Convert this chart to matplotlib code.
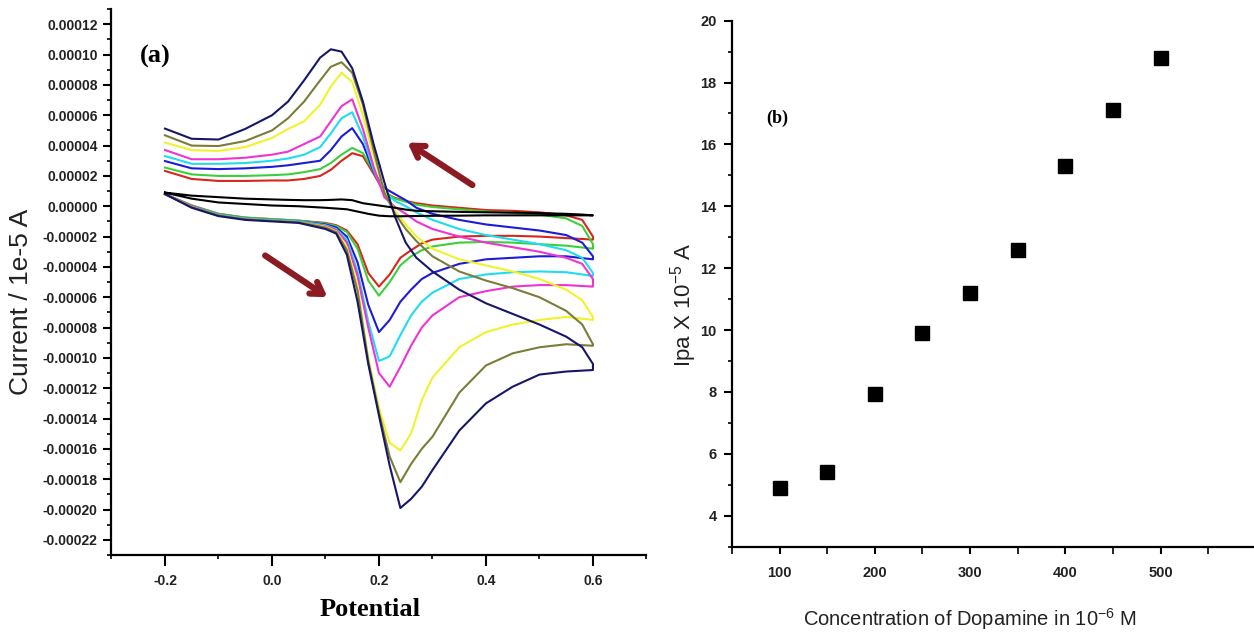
import matplotlib
matplotlib.use("Agg")
import matplotlib.pyplot as plt
from matplotlib.ticker import MultipleLocator, FormatStrFormatter

plt.rcParams['axes.unicode_minus'] = False
plt.rcParams['mathtext.default'] = 'regular'

sans = ['Liberation Sans', 'DejaVu Sans']
serif = ['Liberation Serif', 'DejaVu Serif']

# ---- (a) cyclic voltammograms, current in units of 1e-5 A ----
pot_fwd = [-0.2, -0.15, -0.1, -0.05, 0.0, 0.05, 0.1, 0.12, 0.14, 0.16, 0.18, 0.2,
           0.22, 0.24, 0.26, 0.28, 0.3, 0.35, 0.4, 0.45, 0.5, 0.55, 0.6]
pot_rev = [0.6, 0.58, 0.55, 0.5, 0.45, 0.4, 0.35, 0.3, 0.27, 0.25, 0.23, 0.21, 0.19,
           0.17, 0.15, 0.13, 0.11, 0.09, 0.06, 0.03, 0.0, -0.05, -0.1, -0.15, -0.2]

fwd_black = [0.9, 0.5, 0.25, 0.15, 0.05, 0.0, -0.1, -0.15, -0.2, -0.35, -0.5, -0.62,
             -0.66, -0.66, -0.65, -0.64, -0.63, -0.62, -0.6, -0.6, -0.6, -0.6, -0.6]
fwd_red = [0.8, 0.05, -0.5, -0.75, -0.85, -0.95, -1.1, -1.25, -1.6, -2.5, -4.4, -5.3,
           -4.5, -3.4, -2.9, -2.45, -2.2, -2.0, -1.95, -1.95, -2.0, -2.1, -2.2]
fwd_green = [0.8, 0.05, -0.5, -0.75, -0.85, -0.95, -1.15, -1.3, -1.7, -2.8, -4.9, -5.9,
             -5.0, -3.9, -3.3, -2.9, -2.65, -2.4, -2.35, -2.4, -2.5, -2.6, -2.8]
fwd_blue = [0.8, 0.0, -0.55, -0.8, -0.9, -1.0, -1.2, -1.4, -2.0, -3.7, -6.5, -8.3,
            -7.5, -6.3, -5.5, -4.8, -4.4, -3.8, -3.5, -3.4, -3.3, -3.3, -3.5]
fwd_cyan = [0.8, 0.0, -0.55, -0.8, -0.9, -1.0, -1.25, -1.5, -2.2, -4.3, -7.6, -10.2,
            -9.9, -8.5, -7.2, -6.3, -5.7, -4.8, -4.5, -4.35, -4.3, -4.35, -4.6]
fwd_magenta = [0.8, 0.0, -0.6, -0.85, -0.95, -1.05, -1.3, -1.55, -2.4, -4.6, -8.0, -11.0,
               -11.9, -10.6, -9.2, -8.0, -7.2, -6.0, -5.6, -5.3, -5.2, -5.2, -5.3]
fwd_yellow = [0.8, -0.05, -0.6, -0.85, -0.95, -1.05, -1.35, -1.65, -2.7, -5.3, -10.0, -13.3,
              -15.6, -16.1, -15.0, -12.8, -11.3, -9.3, -8.3, -7.8, -7.5, -7.3, -7.5]
fwd_olive = [0.8, -0.05, -0.6, -0.85, -0.95, -1.05, -1.4, -1.7, -2.9, -5.6, -10.2, -13.6,
             -16.5, -18.2, -17.0, -16.0, -15.2, -12.3, -10.5, -9.7, -9.3, -9.1, -9.2]
fwd_navy = [0.8, -0.1, -0.65, -0.9, -1.0, -1.1, -1.5, -1.8, -3.2, -6.3, -10.4, -13.8,
            -17.1, -19.9, -19.3, -18.5, -17.4, -14.8, -13.0, -11.9, -11.1, -10.9, -10.8]

rev_black = [-0.6, -0.55, -0.5, -0.45, -0.42, -0.4, -0.37, -0.33, -0.3, -0.22, -0.1, 0.0, 0.1,
             0.2, 0.4, 0.45, 0.42, 0.4, 0.4, 0.42, 0.45, 0.5, 0.6, 0.7, 0.9]
rev_red = [-2.0, -0.9, -0.6, -0.4, -0.3, -0.25, -0.1, 0.05, 0.2, 0.35, 0.55, 0.9, 2.15,
           3.3, 3.5, 3.0, 2.4, 2.0, 1.8, 1.7, 1.7, 1.67, 1.67, 1.8, 2.33]
rev_green = [-2.5, -1.3, -0.8, -0.55, -0.45, -0.35, -0.2, -0.05, 0.1, 0.3, 0.5, 0.95, 2.3,
             3.5, 3.85, 3.4, 2.85, 2.45, 2.25, 2.1, 2.05, 2.0, 2.0, 2.1, 2.55]
rev_blue = [-3.3, -2.4, -1.9, -1.6, -1.4, -1.2, -0.9, -0.5, -0.1, 0.4, 0.8, 1.2, 2.3,
            4.1, 5.15, 4.6, 3.7, 3.0, 2.85, 2.7, 2.6, 2.5, 2.45, 2.5, 2.98]
rev_cyan = [-4.4, -3.4, -2.9, -2.5, -2.2, -1.9, -1.5, -0.9, -0.4, 0.0, 0.35, 0.9, 2.4,
            4.6, 6.2, 5.8, 4.8, 3.9, 3.4, 3.15, 3.0, 2.85, 2.8, 2.8, 3.31]
rev_magenta = [-4.8, -3.8, -3.4, -3.0, -2.7, -2.4, -2.0, -1.5, -1.0, -0.5, -0.05, 0.6, 2.6,
               5.1, 7.05, 6.6, 5.6, 4.6, 4.1, 3.6, 3.4, 3.2, 3.1, 3.1, 3.71]
rev_yellow = [-7.3, -6.2, -5.5, -4.8, -4.3, -3.9, -3.5, -2.8, -2.0, -1.2, -0.3, 1.0, 3.3,
              6.0, 8.2, 8.8, 7.9, 6.7, 5.6, 5.1, 4.5, 3.9, 3.65, 3.7, 4.2]
rev_olive = [-9.1, -7.8, -6.9, -6.0, -5.4, -4.9, -4.3, -3.3, -2.3, -1.5, -0.5, 0.9, 3.7,
             6.7, 8.8, 9.5, 9.2, 8.3, 6.9, 5.8, 5.0, 4.3, 3.97, 4.0, 4.68]
rev_navy = [-10.4, -9.3, -8.6, -7.8, -7.1, -6.4, -5.5, -4.3, -3.4, -2.4, -0.7, 1.6, 4.1,
            6.9, 9.1, 10.2, 10.35, 9.8, 8.3, 6.9, 6.0, 5.1, 4.4, 4.45, 5.12]

curves = [
    (fwd_red, rev_red, '#d9261c'),
    (fwd_green, rev_green, '#3ccf3c'),
    (fwd_blue, rev_blue, '#1c1cd8'),
    (fwd_cyan, rev_cyan, '#1fdcef'),
    (fwd_magenta, rev_magenta, '#ee34d2'),
    (fwd_yellow, rev_yellow, '#f2f22c'),
    (fwd_olive, rev_olive, '#7c7c3a'),
    (fwd_navy, rev_navy, '#16166a'),
    (fwd_black, rev_black, '#000000'),
]

# ---- (b) peak current vs concentration ----
conc = [100, 150, 200, 250, 300, 350, 400, 450, 500]
ipa = [4.9, 5.4, 7.95, 9.9, 11.2, 12.6, 15.3, 17.1, 18.8]

fig = plt.figure(figsize=(12.54, 6.34), dpi=100)

ax1 = fig.add_axes([0.0889, 0.1246, 0.4266, 0.861])
for f, r, c in curves:
    x = pot_fwd + pot_rev
    y = [v * 1e-5 for v in f + r]
    ax1.plot(x, y, color=c, lw=1.5)

ax1.set_xlim(-0.3, 0.7)
ax1.set_ylim(-0.00023, 0.00013)
ax1.xaxis.set_minor_locator(MultipleLocator(0.1))
ax1.yaxis.set_major_locator(MultipleLocator(0.00002))
ax1.yaxis.set_minor_locator(MultipleLocator(0.00001))
ax1.yaxis.set_major_formatter(FormatStrFormatter('%.5f'))
ax1.xaxis.set_major_formatter(FormatStrFormatter('%.1f'))
ax1.set_xticks([-0.2, 0.0, 0.2, 0.4, 0.6])

# arrows showing scan direction
arrow_col = '#8b1a22'
ax1.annotate('', xy=(0.249, 4.3e-5), xytext=(0.379, 1.3e-5),
             arrowprops=dict(arrowstyle='->,head_length=0.8,head_width=0.5',
                             lw=4.5, color=arrow_col))
ax1.annotate('', xy=(0.108, -6.1e-5), xytext=(-0.017, -3.15e-5),
             arrowprops=dict(arrowstyle='->,head_length=0.8,head_width=0.5',
                             lw=4.5, color=arrow_col))
ax1.text(0.081, 0.913, '(a)', transform=ax1.transAxes, fontsize=19,
         fontweight='bold', family=serif, ha='center', va='center')

ax2 = fig.add_axes([0.5837, 0.1377, 0.4163, 0.8297])
ax2.plot(conc, ipa, ls='none', marker='s', ms=10, color='black')
ax2.set_xlim(50, 598)
ax2.set_ylim(3, 20)
ax2.xaxis.set_minor_locator(MultipleLocator(50))
ax2.yaxis.set_minor_locator(MultipleLocator(1))
ax2.set_yticks(range(4, 21, 2))
ax2.set_xticks(range(100, 501, 100))
ax2.text(0.087, 0.815, '(b)', transform=ax2.transAxes, fontsize=13,
         fontweight='bold', family=serif, ha='center', va='center')

for ax, size in ((ax1, 10), (ax2, 10.5)):
    for s in ('top', 'right'):
        ax.spines[s].set_visible(False)
    for s in ('left', 'bottom'):
        ax.spines[s].set_linewidth(1.6)
    ax.tick_params(which='major', direction='out', length=6, width=1.5)
    ax.tick_params(which='minor', direction='out', length=3, width=1.2)
    for lab in ax.get_xticklabels() + ax.get_yticklabels():
        lab.set_family(sans)
        lab.set_fontweight('bold')
        lab.set_fontsize(size)
        lab.set_color('#222222')

ax1.tick_params(axis='x', which='major', length=8, pad=6)
ax1.tick_params(axis='y', pad=4)
ax2.tick_params(axis='x', which='both', length=5, pad=9)
ax2.tick_params(axis='y', pad=5)

fig.text(21 / 1254, 1 - 302 / 634, 'Current / 1e-5 A', rotation=90, fontsize=19,
         family=sans, ha='center', va='center', color='#222222')
fig.text(370 / 1254, 1 - 609 / 634, 'Potential', fontsize=19, fontweight='bold',
         family=serif, ha='center', va='center')
fig.text(684 / 1254, 1 - 305 / 634, 'Ipa X 10$^{-5}$ A', rotation=90, fontsize=16,
         family=sans, ha='center', va='center', color='#222222')
fig.text(970 / 1254, 1 - 619 / 634, 'Concentration of Dopamine in 10$^{-6}$ M', fontsize=14.5,
         family=sans, ha='center', va='center', color='#222222')

fig.savefig('out.png', dpi=100)
